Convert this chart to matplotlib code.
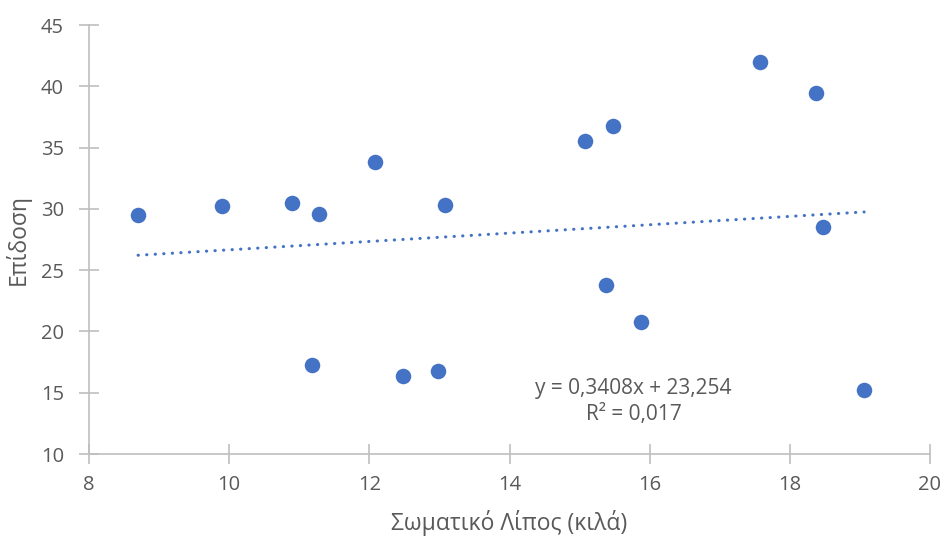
import numpy as np
import matplotlib.pyplot as plt

# data
fat_kg = [8.7, 9.9, 10.9, 11.28, 12.08, 13.08, 11.18, 12.48, 12.98, 15.08, 15.48, 15.38, 15.88, 17.57, 18.37, 18.47, 19.06]
performance = [29.5, 30.2, 30.5, 29.6, 33.8, 30.3, 17.3, 16.4, 16.8, 35.56, 36.79, 23.79, 20.74, 41.98, 39.48, 28.5, 15.22]

# linear trend shown on the chart
slope = 0.3408
intercept = 23.254
r_squared = "0,017"

plt.rcParams['font.family'] = ['Open Sans', 'DejaVu Sans']
textColor = '#595959'
axisColor = '#BFBFBF'
pointColor = '#4472C4'

fig = plt.figure(figsize=(9.41, 5.38), dpi=100)
ax = fig.add_axes([0.0946, 0.156, 0.8937, 0.7975])

ax.scatter(fat_kg, performance, s=125, color=pointColor, zorder=3, linewidths=0)

xTrend = np.array([min(fat_kg), max(fat_kg)])
ax.plot(xTrend, slope * xTrend + intercept, color=pointColor, linewidth=2.2,
        linestyle=(0, (0.1, 2.7)), dash_capstyle='round', zorder=2)

ax.text(15.77, 14.3, "y = 0,3408x + 23,254\nR² = " + r_squared, ha='center', va='center',
        fontsize=15, color=textColor, linespacing=1.3)

ax.set_xlim(8, 20)
ax.set_ylim(10, 45)
ax.set_xticks(range(8, 21, 2))
ax.set_yticks(range(10, 46, 5))

for side in ['top', 'right']:
    ax.spines[side].set_visible(False)
for side in ['left', 'bottom']:
    ax.spines[side].set_color(axisColor)
    ax.spines[side].set_linewidth(1.2)

ax.tick_params(axis='both', direction='inout', length=14, width=1.2, color=axisColor,
               labelcolor=textColor, labelsize=14.5)
ax.tick_params(axis='y', pad=11)
ax.tick_params(axis='x', pad=8)

ax.set_xlabel("Σωματικό Λίπος (κιλά)", fontsize=16.5, color=textColor, va='center')
ax.set_ylabel("Επίδοση", fontsize=16.5, color=textColor, va='center', ha='center')
ax.xaxis.set_label_coords(0.5, -0.161)
ax.yaxis.set_label_coords(-0.0844, 0.5)

fig.savefig("out.png", dpi=100)
